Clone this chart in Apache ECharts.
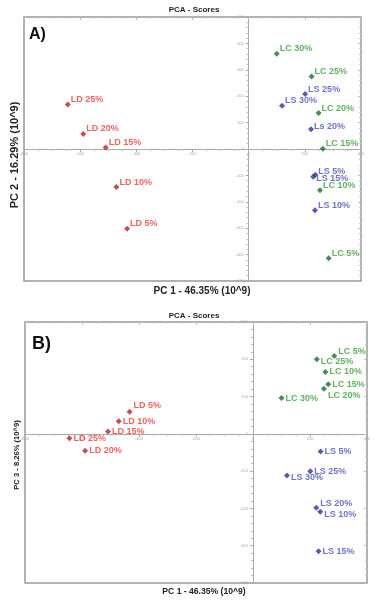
<!DOCTYPE html>
<html>
<head>
<meta charset="utf-8">
<script src="https://cdn.jsdelivr.net/npm/echarts@6/dist/echarts.min.js"></script>
<style>
  html, body { margin: 0; padding: 0; background: #fff; }
  #main { width: 376px; height: 606px; }
</style>
</head>
<body>
<div id="main"></div>
<script>
// sample names
var ldNames = ['LD 5%', 'LD 10%', 'LD 15%', 'LD 20%', 'LD 25%'];
var lcNames = ['LC 5%', 'LC 10%', 'LC 15%', 'LC 20%', 'LC 25%', 'LC 30%'];
var lsNamesA = ['LS 5%', 'LS 10%', 'LS 15%', 'Ls 20%', 'LS 25%', 'LS 30%'];
var lsNamesB = ['LS 5%', 'LS 10%', 'LS 15%', 'LS 20%', 'LS 25%', 'LS 30%'];

// scores (10^9)
var ldPC1 = [-433, -471, -509, -589, -644];
var ldPC2 = [-302, -144, 6, 57, 169];
var ldPC3 = [59, 34, 6, -45, -12];

var lcPC1 = [285, 254, 264, 249, 224, 100];
var lcPC2 = [-414, -156, 1, 136, 275, 361];
var lcPC3 = [209, 166, 133, 121, 200, 96];

var lsPC1 = [237, 236, 230, 222, 201, 119];
var lsPC2 = [-98, -232, -105, 75, 208, 164];
var lsPC3 = [-47, -209, -315, -198, -100, -112];

// axis ranges
var pc1Range = [-800, 400];
var pc2Range = [-500, 500];
var pc3Range = [-400, 300];

var myChart = echarts.init(document.getElementById('main'));

// two plot boxes, in px
var boxes = [
  { left: 24, right: 15, top: 17, height: 264 },
  { left: 25, right: 9, top: 322, height: 261 }
];
var W = 376;

// label nudges, so the text sits where it does in the figure
var nudgeA = { 'LS 15%': [-1, 2], 'LS 5%': [-1, -3], 'Ls 20%': [-1, -3] };
var nudgeB = {
  'LD 5%': [0, -6], 'LC 5%': [0, -4], 'LC 25%': [0, 2], 'LC 20%': [0, 7],
  'LS 30%': [0, 2], 'LS 20%': [0, -4], 'LS 10%': [0, 3]
};

var tickFont = { fontSize: 4, color: '#aaa', fontFamily: 'Liberation Sans' };

// how far zero sits from the low end of a range, as a fraction
function zeroFrac(r) { return (0 - r[0]) / (r[1] - r[0]); }

// the axis that crosses the box at y = 0
function mainX(grid, yRange) {
  var b = boxes[grid];
  return {
    type: 'value', gridIndex: grid, min: pc1Range[0], max: pc1Range[1], interval: 200,
    position: 'bottom',
    offset: -b.height * zeroFrac(yRange),
    axisLine: { onZero: false, lineStyle: { color: '#aaa', width: 1 } },
    axisTick: { length: 3, lineStyle: { color: '#aaa' } },
    minorTick: { show: true, splitNumber: 4, length: 2, lineStyle: { color: '#bbb' } },
    axisLabel: Object.assign({ margin: 3 }, tickFont),
    splitLine: { show: false }
  };
}
// the axis that crosses the box at x = 0
function mainY(grid, range) {
  var b = boxes[grid];
  var w = W - b.left - b.right;
  return {
    type: 'value', gridIndex: grid, min: range[0], max: range[1], interval: 100,
    position: 'left',
    offset: -w * zeroFrac(pc1Range),
    axisLine: { onZero: false, lineStyle: { color: '#aaa', width: 1 } },
    axisTick: { length: 3, lineStyle: { color: '#aaa' } },
    minorTick: { show: true, splitNumber: 5, length: 2, lineStyle: { color: '#bbb' } },
    axisLabel: Object.assign({ margin: 5 }, tickFont),
    splitLine: { show: false }
  };
}
// tick marks along the top and right edge of the box
function frameX(grid) {
  return {
    type: 'value', gridIndex: grid, position: 'top', min: pc1Range[0], max: pc1Range[1], interval: 200,
    axisLine: { show: false, onZero: false },
    axisTick: { inside: true, length: 3, lineStyle: { color: '#bbb' } },
    minorTick: { show: true, splitNumber: 4, length: 2, lineStyle: { color: '#ccc' } },
    axisLabel: { show: false },
    splitLine: { show: false }
  };
}
function frameY(grid, range) {
  return {
    type: 'value', gridIndex: grid, position: 'right', min: range[0], max: range[1], interval: 100,
    axisLine: { show: false, onZero: false },
    axisTick: { inside: true, length: 3, lineStyle: { color: '#bbb' } },
    minorTick: { show: true, splitNumber: 5, length: 2, lineStyle: { color: '#ccc' } },
    axisLabel: { show: false },
    splitLine: { show: false }
  };
}

function group(axisIdx, names, xs, ys, marker, text, nudge, baseOffset) {
  return {
    type: 'scatter',
    xAxisIndex: axisIdx,
    yAxisIndex: axisIdx,
    symbol: 'diamond',
    symbolSize: 6,
    itemStyle: { color: marker },
    label: {
      show: true,
      position: 'right',
      distance: 1,
      formatter: '{b}',
      color: text,
      fontSize: 9,
      fontWeight: 'bold',
      fontFamily: 'Liberation Sans'
    },
    data: names.map(function (n, i) {
      return { name: n, value: [xs[i], ys[i]], label: { offset: nudge[n] || baseOffset } };
    })
  };
}

var red = ['#b3232b', '#ee3b36'];
var green = ['#1f6a34', '#3a9f36'];
var blue = ['#2d3590', '#4b50b8'];

function txt(x, y, s, size, rot) {
  return {
    type: 'text', x: x, y: y, rotation: rot || 0,
    style: {
      text: s, fill: '#222', font: 'bold ' + size + 'px "Liberation Sans"',
      align: 'center', verticalAlign: 'middle'
    }
  };
}

var option = {
  backgroundColor: '#fff',
  animation: false,
  grid: boxes.map(function (b) {
    return { left: b.left, right: b.right, top: b.top, height: b.height, show: true, borderColor: '#999', borderWidth: 1.5 };
  }),
  xAxis: [mainX(0, pc2Range), mainX(1, pc3Range), frameX(0), frameX(1)],
  yAxis: [mainY(0, pc2Range), mainY(1, pc3Range), frameY(0, pc2Range), frameY(1, pc3Range)],
  graphic: [
    txt(194, 10, 'PCA - Scores', 8),
    txt(194, 316, 'PCA - Scores', 8),
    { type: 'text', x: 29, y: 27, style: { text: 'A)', fill: '#111', font: 'bold 16px "Liberation Sans"' } },
    { type: 'text', x: 32, y: 335, style: { text: 'B)', fill: '#111', font: 'bold 18px "Liberation Sans"' } },
    txt(202, 291, 'PC 1 - 46.35% (10^9)', 10),
    txt(204, 592, 'PC 1 - 46.35% (10^9)', 8.6),
    txt(15, 155, 'PC 2 - 16.29% (10^9)', 11, Math.PI / 2),
    txt(17, 455, 'PC 3 - 8.26% (10^9)', 7.6, Math.PI / 2)
  ],
  series: [
    group(0, ldNames, ldPC1, ldPC2, red[0], red[1], nudgeA, [-1, -5]),
    group(0, lcNames, lcPC1, lcPC2, green[0], green[1], nudgeA, [-1, -5]),
    group(0, lsNamesA, lsPC1, lsPC2, blue[0], blue[1], nudgeA, [-1, -5]),
    group(1, ldNames, ldPC1, ldPC3, red[0], red[1], nudgeB, [0, 0]),
    group(1, lcNames, lcPC1, lcPC3, green[0], green[1], nudgeB, [0, 0]),
    group(1, lsNamesB, lsPC1, lsPC3, blue[0], blue[1], nudgeB, [0, 0])
  ]
};

option && myChart.setOption(option);
</script>
</body>
</html>
